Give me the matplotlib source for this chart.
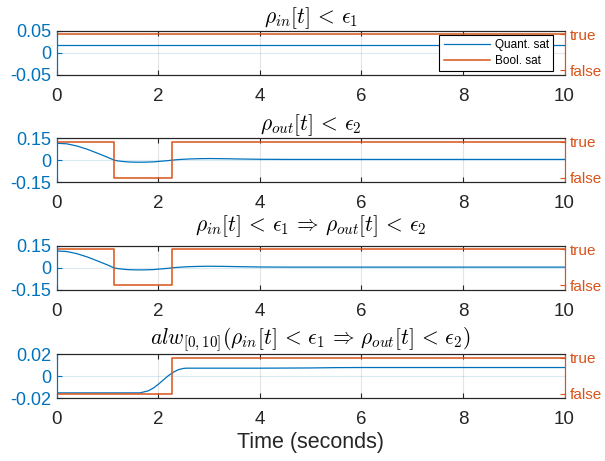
import matplotlib
matplotlib.use("Agg")
import matplotlib.pyplot as plt

plt.rcParams["font.family"] = ["Liberation Sans", "DejaVu Sans"]
plt.rcParams["mathtext.fontset"] = "cm"

BLUE = "#0072BD"
ORANGE = "#D95319"
DARK = "#262626"

# ---- data -----------------------------------------------------------------
titles = [
    r"$\rho_{in}[t] \,<\, \epsilon_1$",
    r"$\rho_{out}[t] \,<\, \epsilon_2$",
    r"$\rho_{in}[t] \,<\, \epsilon_1 \,\Rightarrow\, \rho_{out}[t] \,<\, \epsilon_2$",
    r"$alw_{[0,10]}(\rho_{in}[t] \,<\, \epsilon_1 \,\Rightarrow\, \rho_{out}[t] \,<\, \epsilon_2)$",
]
title_pads = [4.5, 5.5, 11.0, 3.5]

# quantitative satisfaction (robustness) of each formula
t_in = [0.0, 10.0]
rob_in = [0.019, 0.019]

t_out = [0.0, 0.2, 0.4, 0.6, 0.8, 1.0, 1.13, 1.2, 1.3, 1.4, 1.5, 1.6, 1.7,
         1.8, 1.9, 2.0, 2.1, 2.2, 2.27, 2.4, 2.6, 2.8, 3.0, 3.3, 3.6, 4.0,
         4.5, 5.0, 6.0, 7.0, 8.0, 9.0, 10.0]
rob_out = [0.116, 0.112, 0.097, 0.075, 0.048, 0.020, 0.0, -0.005, -0.009,
           -0.012, -0.0135, -0.014, -0.014, -0.013, -0.012, -0.009, -0.006,
           -0.003, 0.0, 0.004, 0.008, 0.010, 0.011, 0.010, 0.008, 0.006,
           0.005, 0.005, 0.005, 0.005, 0.005, 0.005, 0.005]

t_alw = [0.0, 1.64, 1.8, 1.9, 2.0, 2.1, 2.2, 2.3, 2.4, 2.5, 2.55, 4.0, 5.0,
         5.5, 6.0, 10.0]
rob_alw = [-0.0153, -0.0153, -0.0135, -0.011, -0.0075, -0.0035, 0.0005,
           0.0037, 0.0060, 0.0071, 0.0073, 0.0073, 0.0075, 0.0078, 0.0079,
           0.0079]

# boolean satisfaction (1 = true, 0 = false), piecewise constant
tb_in = [0.0, 10.0]
bool_in = [1, 1]
tb_out = [0.0, 1.13, 2.27, 10.0]
bool_out = [1, 0, 1, 1]
tb_alw = [0.0, 2.27, 10.0]
bool_alw = [0, 1, 1]

quant = [(t_in, rob_in), (t_out, rob_out), (t_out, rob_out), (t_alw, rob_alw)]
boolean = [(tb_in, bool_in), (tb_out, bool_out), (tb_out, bool_out),
           (tb_alw, bool_alw)]

ylims = [0.05, 0.15, 0.15, 0.02]
ytick_labels = [["-0.05", "0", "0.05"], ["-0.15", "0", "0.15"],
                ["-0.15", "0", "0.15"], ["-0.02", "0", "0.02"]]
xticks = [0, 2, 4, 6, 8, 10]

# ---- figure ---------------------------------------------------------------
W, H = 605, 461
fig = plt.figure(figsize=(W / 100, H / 100), dpi=100)

left_px, right_px = 56.7, 564.5
tops_px = [31.0, 138.3, 246.0, 354.3]
h_px = 43.7

for i in range(4):
    b = 1 - (tops_px[i] + h_px) / H
    ax = fig.add_axes([left_px / W, b, (right_px - left_px) / W, h_px / H])
    ax2 = ax.twinx()

    tq, vq = quant[i]
    lq, = ax.plot(tq, vq, color=BLUE, lw=0.9)
    tb, vb = boolean[i]
    lb, = ax2.step(tb, vb, where="post", color=ORANGE, lw=1.1)

    yl = ylims[i]
    ax.set_xlim(0, 10)
    ax.set_ylim(-yl, yl)
    ax.set_yticks([-yl, 0, yl])
    ax.set_yticklabels(ytick_labels[i])
    ax.set_xticks(xticks)
    ax.set_xticklabels([str(x) for x in xticks])

    ax2.set_ylim(-0.12, 1.09)
    ax2.set_yticks([0, 1])
    ax2.set_yticklabels(["false", "true"])

    ax.grid(True, axis="x", color=DARK, alpha=0.12, lw=0.8)
    ax.grid(True, axis="y", color=BLUE, alpha=0.15, lw=0.8)
    ax.set_axisbelow(True)

    ax.tick_params(axis="x", direction="in", top=True, length=3.5,
                   colors=DARK, labelsize=13.5, pad=9.5, width=0.8)
    ax.tick_params(axis="y", direction="in", length=3.5, colors=BLUE,
                   labelsize=13, pad=4, width=0.8)
    ax2.tick_params(axis="y", direction="in", length=3.5, colors=ORANGE,
                    labelsize=11, pad=4, width=0.8)

    for a in (ax, ax2):
        a.spines["top"].set_color(DARK)
        a.spines["bottom"].set_color(DARK)
        a.spines["left"].set_color(BLUE)
        a.spines["right"].set_color(ORANGE)
        for s in a.spines.values():
            s.set_linewidth(0.8)

    ax.set_title(titles[i], fontsize=15.5, pad=title_pads[i], color="black")

    if i == 0:
        leg = ax2.legend([lq, lb], ["Quant. sat", "Bool. sat"],
                         loc="upper right", bbox_to_anchor=(0.977, 0.908),
                         fontsize=8.5, handlelength=3.9, handletextpad=0.42,
                         borderpad=0.35, labelspacing=0.3, borderaxespad=0,
                         fancybox=False, framealpha=1)
        leg.get_frame().set_edgecolor("black")
        leg.get_frame().set_linewidth(0.8)
    if i == 3:
        ax.set_xlabel("Time (seconds)", fontsize=15.5, color=DARK,
                      labelpad=3)

fig.savefig("out.png", dpi=100)
